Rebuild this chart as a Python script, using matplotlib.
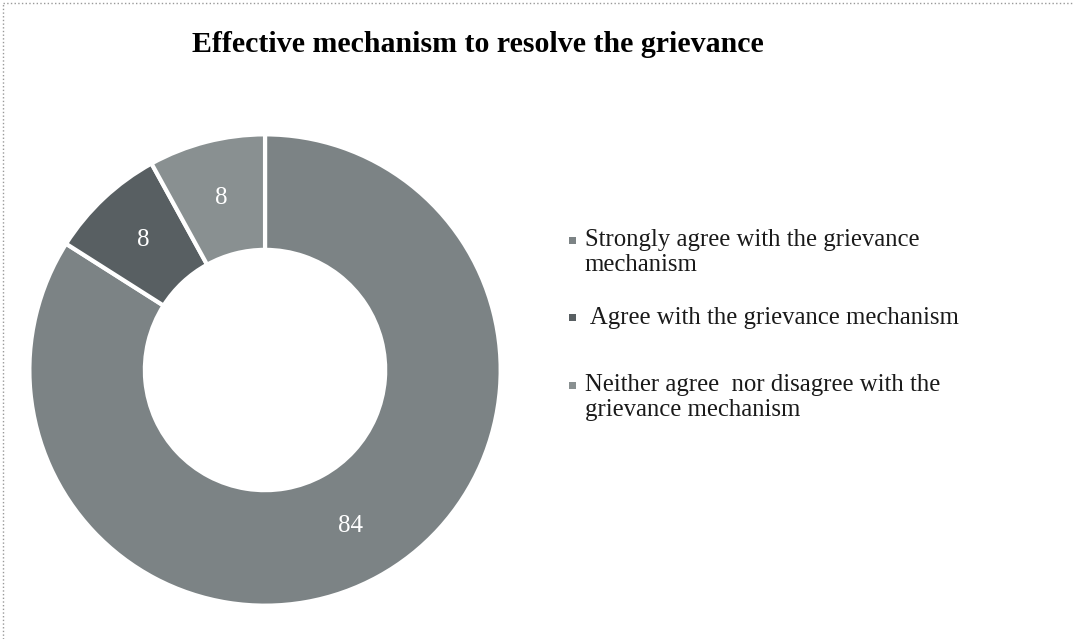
import matplotlib.pyplot as plt
import matplotlib.patches as patches
from matplotlib.lines import Line2D

# respostas (%) por categoria
categorias = ["Strongly agree with the grievance\nmechanism",
              " Agree with the grievance mechanism",
              "Neither agree  nor disagree with the\ngrievance mechanism"]
valores = [84, 8, 8]
cores = ["#7c8385", "#585f62", "#899091"]
titulo = "Effective mechanism to resolve the grievance"

plt.rcParams['font.family'] = ['Liberation Serif', 'DejaVu Serif']

fig = plt.figure(figsize=(10.73, 6.39), dpi=100)

# eixo da rosca, posicionado em fração da figura
ax = fig.add_axes([0.0252, 0.0485, 0.4436, 0.7449])
ax.pie(valores, colors=cores, startangle=90, counterclock=False,
       autopct=lambda p: f"{p:.0f}", pctdistance=0.755,
       textprops={'color': 'white', 'fontsize': 18},
       wedgeprops={'width': 0.49, 'edgecolor': 'white', 'linewidth': 3})
ax.set_xlim(-1.01, 1.01)
ax.set_ylim(-1.01, 1.01)
ax.set_aspect('equal')
ax.axis('off')

# título
fig.text(0.4455, 0.93, titulo, ha='center', va='center',
         fontsize=21.5, fontweight='bold')

# legenda manual: marcador alinhado com a primeira linha do rótulo
leg_y = [0.624, 0.503, 0.397]
for rotulo, cor, y in zip(categorias, cores, leg_y):
    fig.add_artist(patches.Rectangle((0.5305, y - 0.0055), 0.0062, 0.0104,
                                     transform=fig.transFigure,
                                     facecolor=cor, edgecolor='none'))
    for i, linha in enumerate(rotulo.split('\n')):
        fig.text(0.545, y - i * 0.0385, linha, ha='left', va='center',
                 fontsize=17.8, color='#1a1a1a')

# moldura pontilhada (bordas esquerda e superior)
fig.add_artist(Line2D([0.003, 0.003], [0.0, 0.995], transform=fig.transFigure,
                      color='#999999', linewidth=1, linestyle=':'))
fig.add_artist(Line2D([0.003, 1.0], [0.995, 0.995], transform=fig.transFigure,
                      color='#999999', linewidth=1, linestyle=':'))

fig.savefig('out.png', dpi=100)
